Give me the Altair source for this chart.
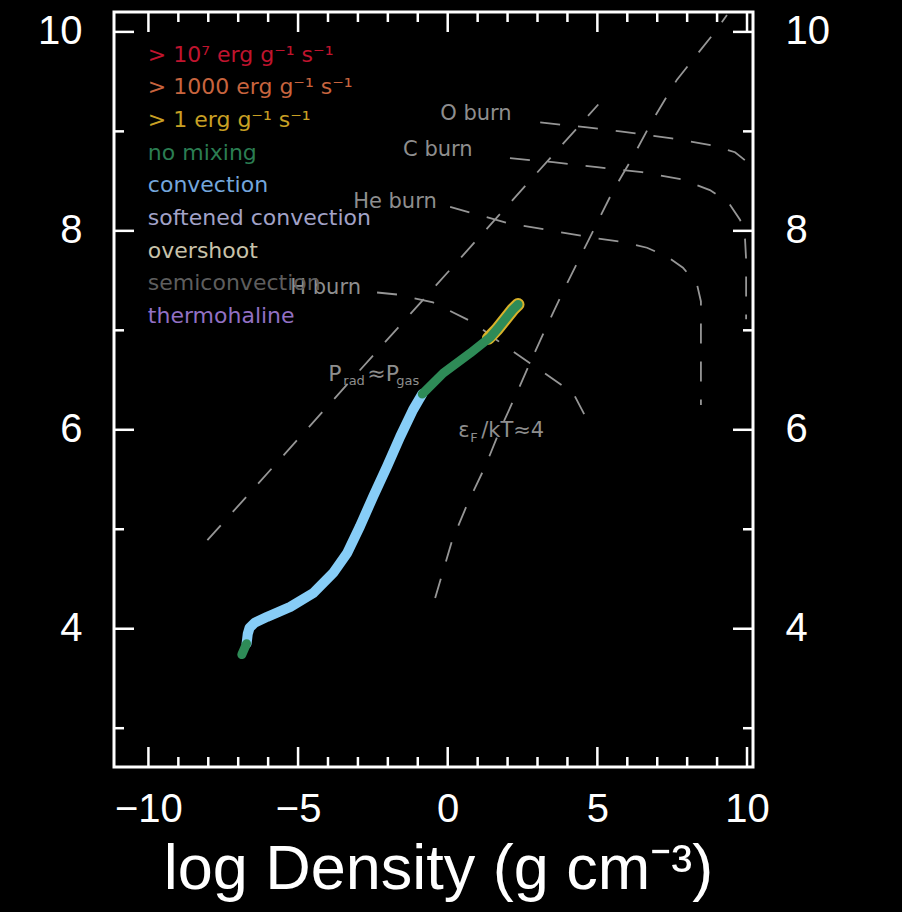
import altair as alt
import pandas as pd

# ---------------- data ----------------
# stellar track: log Density vs log T
track_start_x = [-6.88, -6.72]
track_start_y = [3.74, 3.85]
track_conv_x = [-6.72, -6.68, -6.62, -6.45, -6.03, -5.26, -4.49, -3.83, -3.36, -2.93, -2.49, -2.03, -1.59, -1.16, -0.85]
track_conv_y = [3.85, 3.95, 4.01, 4.06, 4.12, 4.22, 4.36, 4.56, 4.76, 5.03, 5.33, 5.63, 5.93, 6.20, 6.36]
track_nomix_x = [-0.85, -0.15, 0.75, 1.42, 1.65, 2.18, 2.35]
track_nomix_y = [6.36, 6.57, 6.77, 6.93, 7.01, 7.21, 7.26]
track_burn_x = [1.36, 1.65, 2.18, 2.35]
track_burn_y = [6.92, 7.01, 7.21, 7.26]

# reference lines (dashed)
prad_x = [-8.03, 5.03]
prad_y = [4.89, 9.27]
degen_x = [-0.42, 0.15, 0.68, 1.25, 1.75, 2.35, 2.82, 3.32, 4.00, 4.66, 5.52, 6.20, 6.86, 7.66, 8.93, 9.33]
degen_y = [4.31, 4.89, 5.27, 5.63, 6.00, 6.40, 6.72, 7.05, 7.48, 7.88, 8.40, 8.75, 9.12, 9.52, 10.00, 10.17]
hburn_x = [-2.36, -1.69, -0.49, 0.85, 1.65, 2.75, 4.19, 4.52, 4.82]
hburn_y = [7.38, 7.36, 7.28, 7.08, 6.90, 6.67, 6.37, 6.18, 6.00]
heburn_x = [0.08, 1.98, 3.32, 4.66, 5.99, 6.66, 7.33, 7.86, 8.33, 8.46, 8.46]
heburn_y = [8.24, 8.08, 8.01, 7.94, 7.88, 7.83, 7.74, 7.63, 7.46, 7.29, 6.25]
cburn_x = [2.08, 3.52, 4.99, 6.49, 7.79, 8.76, 9.37, 9.77, 9.93, 9.97, 9.97]
cburn_y = [8.73, 8.69, 8.64, 8.59, 8.52, 8.41, 8.29, 8.11, 7.94, 7.71, 7.11]
oburn_x = [3.09, 4.66, 5.76, 7.49, 8.83, 9.60, 9.93, 10.17, 10.45]
oburn_y = [9.09, 9.04, 9.00, 8.93, 8.86, 8.79, 8.71, 8.61, 8.45]

# curve labels
burn_labels = ["O burn", "C burn", "He burn", "H burn"]
burn_label_x = [-0.25, -1.49, -3.16, -5.26]
burn_label_y = [9.17, 8.81, 8.29, 7.43]
prad_label_x = [-3.99]
prad_label_y = [6.56]
degen_label_x = [0.35]
degen_label_y = [5.99]

# legend
legend_labels = ["> 10⁷ erg g⁻¹ s⁻¹", "> 1000 erg g⁻¹ s⁻¹", "> 1 erg g⁻¹ s⁻¹", "no mixing",
                 "convection", "softened convection", "overshoot", "semiconvection", "thermohaline"]

# axis ticks
x_major = [-10, -5, 0, 5, 10]
x_minor = [-9, -8, -7, -6, -4, -3, -2, -1, 1, 2, 3, 4, 6, 7, 8, 9]
y_major = [4, 6, 8, 10]
y_minor = [3, 5, 7, 9]

# ---------------- styling ----------------
legend_colors = ["#c0142e", "#c8643e", "#c9a024", "#2b7d52", "#74a6dc",
                 "#a2a2c8", "#c8c2aa", "#5e5e5e", "#9270c4"]
W, H = 639, 755
XDOM = [-11.15, 10.2]
YDOM = [2.61, 10.2]
GRAY = "#969696"
LBL = "#8e8e8e"
FONT = "DejaVu Sans"
AXFONT = "Liberation Sans"

xs = alt.Scale(domain=XDOM, nice=False, zero=False)
ys = alt.Scale(domain=YDOM, nice=False, zero=False)


def X(axis=None):
    return alt.X("x:Q", scale=xs, axis=axis)


def Y(axis=None):
    return alt.Y("y:Q", scale=ys, axis=axis)


def frame(xv, yv, name="s"):
    d = pd.DataFrame({"x": xv, "y": yv})
    d["i"] = range(len(d))
    d["name"] = name
    return d


curves = pd.concat([
    frame(prad_x, prad_y, "prad"),
    frame(degen_x, degen_y, "degen"),
    frame(hburn_x, hburn_y, "H"),
    frame(heburn_x, heburn_y, "He"),
    frame(cburn_x, cburn_y, "C"),
    frame(oburn_x, oburn_y, "O"),
])

dashed = alt.Chart(curves).mark_line(
    color=GRAY, strokeWidth=1.8, strokeDash=[20, 18], clip=True
).encode(x=X(), y=Y(), detail="name:N", order="i:Q")

conv = alt.Chart(frame(track_conv_x, track_conv_y)).mark_line(
    color="#87cdf7", strokeWidth=10, strokeCap="round", strokeJoin="round"
).encode(x=X(), y=Y(), order="i:Q")

burn = alt.Chart(frame(track_burn_x, track_burn_y)).mark_line(
    color="#d8b22a", strokeWidth=13, strokeCap="round", strokeJoin="round"
).encode(x=X(), y=Y(), order="i:Q")

nomix = alt.Chart(pd.concat([frame(track_start_x, track_start_y, "a"),
                             frame(track_nomix_x, track_nomix_y, "b")])).mark_line(
    color="#2e8b57", strokeWidth=9, strokeCap="round", strokeJoin="round"
).encode(x=X(), y=Y(), detail="name:N", order="i:Q")

# curve labels
blabels = alt.Chart(pd.DataFrame({"x": burn_label_x, "y": burn_label_y, "t": burn_labels})).mark_text(
    align="left", baseline="middle", font=FONT, fontSize=21, color=LBL
).encode(x=X(), y=Y(), text="t:N")

pdf = pd.DataFrame({"x": prad_label_x, "y": prad_label_y})
prad_parts = []
for txt, dx, dy, fs in [("P", 0, 0, 22), ("rad", 15, 7, 13), ("≈P", 39, 0, 22), ("gas", 68, 7, 13)]:
    prad_parts.append(alt.Chart(pdf).mark_text(
        align="left", baseline="middle", font=FONT, fontSize=fs, color=LBL, dx=dx, dy=dy, text=txt
    ).encode(x=X(), y=Y()))

ddf = pd.DataFrame({"x": degen_label_x, "y": degen_label_y})
degen_parts = []
for txt, dx, dy, fs in [("ε", 0, 0, 21), ("F", 12, 7, 13), ("/kT≈4", 23, 0, 21)]:
    degen_parts.append(alt.Chart(ddf).mark_text(
        align="left", baseline="middle", font=FONT, fontSize=fs, color=LBL, dx=dx, dy=dy, text=txt
    ).encode(x=X(), y=Y()))

# legend (positions computed in data units)
leg_top, leg_step = 9.77, 0.328
legdf = pd.DataFrame({
    "t": legend_labels,
    "c": legend_colors,
    "x": [-10.02] * len(legend_labels),
    "y": [leg_top - k * leg_step for k in range(len(legend_labels))],
})
legend = alt.Chart(legdf).mark_text(
    align="left", baseline="middle", font=FONT, fontSize=22
).encode(x=X(), y=Y(), text="t:N", color=alt.Color("c:N", scale=None))

# ---------------- axes + inward ticks ----------------
bottom_axis = alt.Axis(orient="bottom", values=x_major, ticks=False, tickSize=0, domain=False, grid=False,
                       labelFont=AXFONT, labelFontSize=40, labelColor="white", labelPadding=22,
                       labelFlush=False, title="log Density (g cm⁻³)", titleFont=AXFONT,
                       titleFontSize=63, titleFontWeight="normal", titleColor="white",
                       titleBaseline="top", titleX=324, titleY=71, titleAlign="center")
left_axis = alt.Axis(orient="left", values=y_major, ticks=False, tickSize=0, domain=False, grid=False,
                     labelFont=AXFONT, labelFontSize=40, labelColor="white", labelPadding=32,
                     labelFlush=False, title=None)
right_axis = alt.Axis(orient="right", values=y_major, ticks=False, tickSize=0, domain=False, grid=False,
                      labelFont=AXFONT, labelFontSize=40, labelColor="white", labelPadding=32,
                      labelFlush=False, title=None)

TW = 2.5
xmaj = pd.DataFrame({"x": x_major})
xmin = pd.DataFrame({"x": x_minor})
ymaj = pd.DataFrame({"y": y_major})
ymin = pd.DataFrame({"y": y_minor})

t_bottom_major = alt.Chart(xmaj).mark_rule(color="white", strokeWidth=TW).encode(
    x=X(bottom_axis), y=alt.value(H), y2=alt.value(H - 20))
t_bottom_minor = alt.Chart(xmin).mark_rule(color="white", strokeWidth=TW).encode(
    x=X(), y=alt.value(H), y2=alt.value(H - 10))
t_top_major = alt.Chart(xmaj).mark_rule(color="white", strokeWidth=TW).encode(
    x=X(), y=alt.value(0), y2=alt.value(20))
t_top_minor = alt.Chart(xmin).mark_rule(color="white", strokeWidth=TW).encode(
    x=X(), y=alt.value(0), y2=alt.value(10))
t_left_major = alt.Chart(ymaj).mark_rule(color="white", strokeWidth=TW).encode(
    y=Y(left_axis), x=alt.value(0), x2=alt.value(20))
t_left_minor = alt.Chart(ymin).mark_rule(color="white", strokeWidth=TW).encode(
    y=Y(), x=alt.value(0), x2=alt.value(10))
t_right_major = alt.Chart(ymaj).mark_rule(color="white", strokeWidth=TW).encode(
    y=Y(right_axis), x=alt.value(W), x2=alt.value(W - 20))
t_right_minor = alt.Chart(ymin).mark_rule(color="white", strokeWidth=TW).encode(
    y=Y(), x=alt.value(W), x2=alt.value(W - 10))

chart = alt.layer(
    dashed, blabels, *prad_parts, *degen_parts, legend,
    conv, burn, nomix,
    t_bottom_major, t_bottom_minor, t_top_major, t_top_minor,
    t_left_major, t_left_minor, t_right_major, t_right_minor,
).resolve_axis(x="independent", y="independent").properties(
    width=W, height=H,
    autosize=alt.AutoSizeParams(type="none"),
    padding={"left": 114, "top": 12, "right": 149, "bottom": 145},
    background="black",
).configure_view(stroke="white", strokeWidth=3)

chart.save("out.html", embed_options={"renderer": "svg", "actions": False})
